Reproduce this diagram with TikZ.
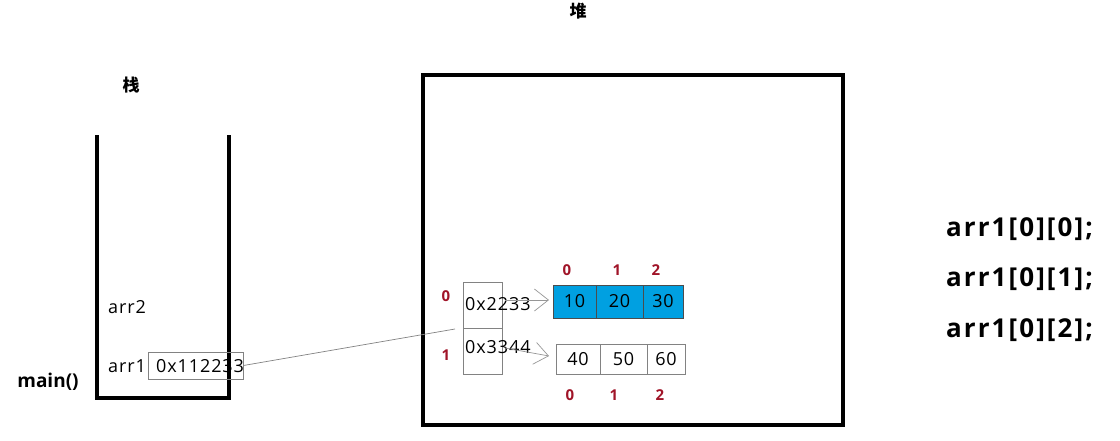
\documentclass[tikz,border=0pt]{standalone}
\usepackage{fontspec}
\setmainfont{Open Sans}
\newfontfamily\cjk{Noto Sans CJK SC}
\newfontfamily\wide[LetterSpace=8]{Open Sans}
\newfontfamily\semiwide[LetterSpace=5]{Open Sans}
\usetikzlibrary{arrows.meta}
\definecolor{idxred}{RGB}{160,20,40}
\definecolor{cellblue}{RGB}{0,160,225}
\definecolor{boxgray}{RGB}{130,130,130}
\definecolor{arrgray}{RGB}{150,150,150}
\tikzset{
  thickwall/.style={line width=3.5pt, black},
  cellbox/.style={draw=boxgray, line width=0.8pt},
  lbl/.style={font=\semiwide\fontsize{18}{20}\selectfont, inner sep=0pt},
  idx/.style={font=\bfseries\fontsize{15}{17}\selectfont, text=idxred, inner sep=0pt},
  code/.style={font=\wide\bfseries\fontsize{26}{30}\selectfont, inner sep=0pt, anchor=west},
  title/.style={font=\cjk\bfseries\fontsize{17}{19}\selectfont, inner sep=0pt},
  ptr/.style={draw=arrgray, line width=0.7pt, -{Straight Barb[length=14pt,width=22pt,line width=0.7pt]}},
}
\begin{document}
\begin{tikzpicture}[x=1pt,y=-1pt]
\useasboundingbox (0,0) rectangle (1120,440);
% titles
\node[title] (stackt) at (131,85) {栈};
\node[title] (heapt) at (578,11) {堆};
% stack
\draw[thickwall] (97,135) -- (97,398) -- (229,398) -- (229,135);
\node[font=\bfseries\fontsize{19}{21}\selectfont, inner sep=0pt] (main) at (48,382) {main()};
\node[lbl, anchor=west] (arr2) at (108,307) {arr2};
\node[lbl, anchor=west] (arr1) at (108,366) {arr1};
\node[cellbox, minimum width=95pt, minimum height=27pt, inner sep=0pt] (p1) at (195.5,365.5) {};
\node[lbl, anchor=west] (p1t) at (156,366) {0x112233};
% heap
\draw[thickwall] (423,75) rectangle (843,425);
% pointer column
\node[cellbox, minimum width=39pt, minimum height=46pt, inner sep=0pt] (c0) at (482.5,305) {};
\node[cellbox, minimum width=39pt, minimum height=46pt, inner sep=0pt] (c1) at (482.5,351) {};
\node[lbl, anchor=west] (t0) at (465,304) {0x2233};
\node[lbl, anchor=west] (t1) at (465,347) {0x3344};
\node[idx] (r0) at (446,296) {0};
\node[idx] (r1) at (446,355) {1};
% blue array
\node[draw=black!70, fill=cellblue, line width=0.8pt, minimum width=43pt, minimum height=33pt, inner sep=0pt, lbl] (a0) at (574.5,301.5) {10};
\node[draw=black!70, fill=cellblue, line width=0.8pt, minimum width=47pt, minimum height=33pt, inner sep=0pt, lbl] (a1) at (619.5,301.5) {20};
\node[draw=black!70, fill=cellblue, line width=0.8pt, minimum width=40pt, minimum height=33pt, inner sep=0pt, lbl] (a2) at (663,301.5) {30};
\node[idx] (ai0) at (567,270) {0};
\node[idx] (ai1) at (617,270) {1};
\node[idx] (ai2) at (656,270) {2};
% white array
\node[cellbox, minimum width=44pt, minimum height=30pt, inner sep=0pt, lbl] (b0) at (578,359) {40};
\node[cellbox, minimum width=47pt, minimum height=30pt, inner sep=0pt, lbl] (b1) at (623.5,359) {50};
\node[cellbox, minimum width=38pt, minimum height=30pt, inner sep=0pt, lbl] (b2) at (666,359) {60};
\node[idx] (bi0) at (570,395) {0};
\node[idx] (bi1) at (614,395) {1};
\node[idx] (bi2) at (660,395) {2};
% connectors
\coordinate (s0) at (505,300);
\coordinate (e0) at (549,300);
\coordinate (s1) at (505,348);
\coordinate (e1) at (549,356);
\coordinate (q) at (455,329);
\draw[boxgray, line width=0.7pt] (p1.east) -- (q);
\draw[ptr] (s0) -- (e0);
\draw[ptr] (s1) -- (e1);
% code lines
\node[code] (l1) at (946,229) {arr1[0][0];};
\node[code] (l2) at (946,279) {arr1[0][1];};
\node[code] (l3) at (946,330) {arr1[0][2];};
\end{tikzpicture}
\end{document}
